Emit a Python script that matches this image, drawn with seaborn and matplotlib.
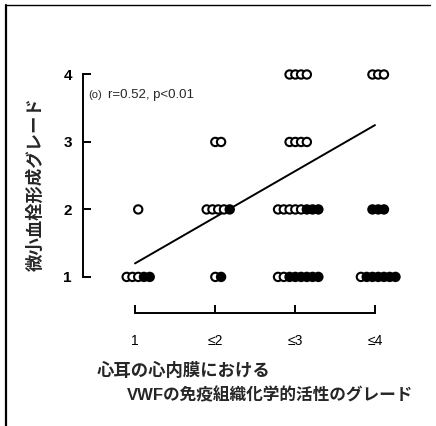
import numpy as np
import pandas as pd
import matplotlib
matplotlib.use("Agg")
import matplotlib.pyplot as plt
from matplotlib.lines import Line2D
import seaborn as sns

# grade of VWF staining (x) vs grade of microthrombus (y), counts per cell
grade_vwf = [1, 1, 2, 2, 2, 3, 3, 3, 3, 4, 4, 4]
grade_thr = [1, 2, 1, 2, 3, 1, 2, 3, 4, 1, 2, 4]
n_open = [3, 1, 1, 4, 2, 2, 5, 4, 4, 1, 0, 3]
n_filled = [2, 0, 1, 1, 0, 6, 3, 0, 0, 6, 3, 0]

# regression line
line_x = [1, 4]
line_y = [1.2, 3.25]

x_ticks = [1, 2, 3, 4]
x_ticklabels = ["1", "\u22642", "\u22643", "\u22644"]
y_ticks = [1, 2, 3, 4]

# spread points in each cell side by side, open first then filled
step = 0.072
rows = []
for gx, gy, no, nf in zip(grade_vwf, grade_thr, n_open, n_filled):
    n = no + nf
    for i in range(n):
        rows.append({"vwf": gx + (i - (n - 1) / 2) * step + 0.04,
                     "grade": gy,
                     "type": "open" if i < no else "filled"})
df = pd.DataFrame(rows)

sns.set_style("ticks")
plt.rcParams["font.family"] = ["Liberation Sans", "Noto Sans CJK JP", "DejaVu Sans"]

W, H = 436, 426
fig = plt.figure(figsize=(W / 100, H / 100), dpi=100)
ax = fig.add_axes([83 / W, (H - 313) / H, (411 - 83) / W, (313 - 61) / H])

sns.lineplot(x=line_x, y=line_y, color="black", lw=1.4, ax=ax, zorder=1)
sns.scatterplot(data=df, x="vwf", y="grade", hue="type",
                palette={"open": "white", "filled": "black"},
                edgecolor="black", linewidth=1.5, s=36, legend=False,
                ax=ax, zorder=3)

ax.set_xlim(0.35, 4.45)
ax.set_ylim(0.465, 4.2)
ax.spines["top"].set_visible(False)
ax.spines["right"].set_visible(False)
ax.spines["left"].set_bounds(1, 4)
ax.spines["bottom"].set_bounds(1, 4)
for s in ["left", "bottom"]:
    ax.spines[s].set_linewidth(1.4)
    ax.spines[s].set_color("black")

ax.set_xticks(x_ticks)
ax.set_xticklabels(x_ticklabels, fontsize=10)
ax.set_yticks(y_ticks)
ax.set_yticklabels([str(v) for v in y_ticks], fontsize=11, weight="bold")
ax.tick_params(axis="y", direction="in", length=6, width=1.4, pad=8, colors="black")
ax.tick_params(axis="x", direction="in", length=6, width=1.4, pad=15, colors="black")

ax.set_xlabel("")
ax.set_ylabel("微小血栓形成グレード", fontsize=12.5, weight="bold")
ax.yaxis.set_label_coords(-0.12, 0.512)

ax.text(0.41, 3.70, "(o)", fontsize=8, va="center", ha="left")
ax.text(0.66, 3.70, "r=0.52, p<0.01", fontsize=9.5, va="center", ha="left")

fig.text(97 / W, 1 - 370 / H, "心耳の心内膜における", fontsize=12.5,
         weight="bold", ha="left", va="center")
fig.text(127 / W, 1 - 395 / H, "VWFの免疫組織化学的活性のグレード", fontsize=12,
         weight="bold", ha="left", va="center")

# scanned frame edges
fig.add_artist(Line2D([6 / W, 6 / W], [0, 1 - 5 / H], transform=fig.transFigure,
                      color="black", lw=1.6))
fig.add_artist(Line2D([6 / W, 430 / W], [1 - 5 / H, 1 - 5 / H], transform=fig.transFigure,
                      color="black", lw=1.0))

fig.savefig("out.png", dpi=100)
